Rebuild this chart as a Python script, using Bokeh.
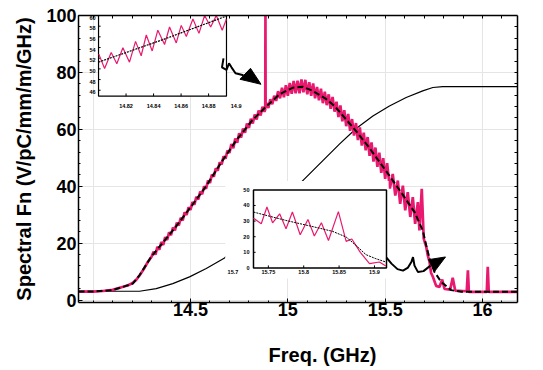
from bokeh.plotting import figure
from bokeh.models import (Range1d, LinearAxis, FixedTicker, SingleIntervalTicker,
                          NumeralTickFormatter, CustomJSTickFormatter)
from bokeh.core.properties import value
from bokeh.embed import file_html
from bokeh.resources import INLINE

FONT = "Liberation Sans"
RED = "#e8196f"

# ---------------- main chart data (GHz, V/pC/mm/m/GHz) ----------------
red_f_foot = [13.925, 14.00, 14.05, 14.10, 14.15, 14.18, 14.20, 14.22, 14.24, 14.26, 14.28, 14.30]
red_v_foot = [3.0, 3.0, 3.2, 3.6, 4.6, 5.2, 5.9, 7.0, 8.8, 10.9, 13.3, 15.2]

red_f_rise = [14.31, 14.32, 14.33, 14.34, 14.35, 14.36, 14.37, 14.38, 14.39, 14.40,
              14.41, 14.42, 14.43, 14.44, 14.45, 14.46, 14.47, 14.48, 14.49, 14.50,
              14.51, 14.52, 14.53, 14.54, 14.55, 14.56, 14.57, 14.58, 14.59, 14.60,
              14.61, 14.62, 14.63, 14.64, 14.65, 14.66, 14.67, 14.68, 14.69, 14.70,
              14.71, 14.72, 14.73, 14.74, 14.75, 14.76, 14.77, 14.78, 14.79, 14.80,
              14.81, 14.82, 14.83, 14.84, 14.85, 14.86, 14.87, 14.88]
red_v_rise = [17.0, 16.0, 18.7, 17.7, 20.4, 19.4, 22.1, 21.1, 23.8, 22.8,
              25.5, 24.5, 27.2, 26.2, 28.9, 28.0, 30.8, 29.9, 32.6, 31.7,
              34.4, 33.5, 36.3, 35.4, 38.1, 37.2, 40.0, 39.1, 42.0, 41.2,
              44.1, 43.4, 46.3, 45.5, 48.4, 47.7, 50.5, 49.7, 52.5, 51.7,
              54.8, 53.4, 56.8, 55.3, 58.6, 57.1, 60.3, 58.8, 62.0, 60.5,
              63.7, 62.1, 65.2, 63.5, 66.6, 64.9, 67.9, 66.2]

red_f_spike = [14.884, 14.885, 14.886]
red_v_spike = [67.0, 100.0, 67.6]

red_f_top = [14.89, 14.90, 14.91, 14.92, 14.93, 14.94, 14.95, 14.96, 14.97, 14.98,
             14.99, 15.00, 15.01, 15.02, 15.03, 15.04, 15.05, 15.06, 15.07, 15.08,
             15.09, 15.10, 15.11, 15.12, 15.13, 15.14, 15.15, 15.16, 15.17, 15.18,
             15.19, 15.20, 15.21, 15.22, 15.23, 15.24, 15.25, 15.26, 15.27, 15.28,
             15.29, 15.30, 15.31, 15.32, 15.33, 15.34, 15.35, 15.36, 15.37, 15.38,
             15.39, 15.40, 15.41, 15.42, 15.43, 15.44, 15.45, 15.46, 15.47, 15.48,
             15.49, 15.50]
red_v_top = [69.3, 67.5, 70.6, 68.8, 71.8, 70.0, 73.4, 70.9, 74.6, 71.3,
             75.5, 71.8, 76.3, 72.5, 77.0, 72.7, 77.1, 72.7, 77.5, 73.0,
             77.4, 72.3, 76.6, 71.8, 76.1, 70.9, 74.9, 70.2, 74.3, 69.2,
             73.2, 68.5, 72.3, 67.2, 71.4, 66.2, 69.7, 64.3, 68.4, 62.8,
             66.7, 61.1, 65.4, 59.5, 63.6, 57.8, 62.2, 56.2, 60.7, 54.3,
             58.8, 52.6, 57.3, 50.7, 55.4, 48.7, 53.6, 46.8, 51.8, 44.7,
             49.9, 42.6]

red_f_tail = [15.51, 15.524, 15.539, 15.552, 15.565, 15.577, 15.591, 15.603, 15.616, 15.629,
              15.642, 15.654, 15.668, 15.676, 15.688, 15.698, 15.711, 15.719, 15.728, 15.736,
              15.745, 15.762, 15.779, 15.793, 15.805, 15.834, 15.847, 15.860, 15.919, 15.925,
              15.930, 16.022, 16.027, 16.032, 16.18]
red_v_tail = [48.1, 39.2, 44.3, 36.7, 42.0, 33.8, 40.2, 31.5, 37.9, 29.2,
              36.2, 26.8, 34.4, 24.5, 39.1, 21.6, 18.7, 15.7, 13.4, 9.5,
              8.2, 5.0, 4.6, 7.2, 3.9, 3.7, 7.8, 3.3, 3.1, 10.5,
              2.9, 2.9, 11.7, 2.9, 2.9]

env_freq = [13.925, 14.00, 14.10, 14.152, 14.204, 14.238, 14.298, 14.375, 14.443, 14.51,
            14.58, 14.664, 14.736, 14.818, 14.890, 14.957, 15.024, 15.075, 15.126, 15.198,
            15.24, 15.342, 15.411, 15.497, 15.582, 15.651, 15.693, 15.711, 15.728, 15.753,
            15.788, 15.839, 15.891, 16.18]
env_val = [3.0, 3.0, 3.5, 4.6, 5.8, 8.7, 15.2, 21.6, 27.4, 33.5,
           40.0, 49.0, 56.2, 63.2, 68.1, 72.3, 74.6, 75.0, 73.6, 70.6,
           68.2, 60.1, 54.2, 46.1, 37.9, 30.9, 24.5, 19.2, 14.6, 9.9,
           6.4, 3.5, 2.9, 2.9]

cum_freq = [13.925, 14.238, 14.324, 14.409, 14.495, 14.581, 14.675, 15.086, 15.180, 15.265,
            15.351, 15.437, 15.522, 15.608, 15.693, 15.745, 15.796, 16.18]
cum_val = [3.1, 3.1, 4.05, 5.8, 8.15, 11.1, 14.8, 42.6, 49.0, 54.8,
           60.3, 64.7, 68.2, 71.2, 73.5, 74.7, 75.0, 75.0]

x_tick_values = [14.5, 15.0, 15.5, 16.0]
x_minor_ticks = [13.9, 14.0, 14.1, 14.2, 14.3, 14.4, 14.6, 14.7, 14.8, 14.9, 15.1, 15.2,
                 15.3, 15.4, 15.6, 15.7, 15.8, 15.9, 16.1]
x_all_ticks = sorted(x_tick_values + x_minor_ticks)
y_all_ticks = [4, 8, 12, 16, 20, 24, 28, 32, 36, 40, 44, 48, 52, 56, 60, 64, 68, 72, 76,
               80, 84, 88, 92, 96]
x_title = "Freq. (GHz)"
x_title_at = [15.178]
y_title = "Spectral Fn (V/pC/mm/m/GHz)"

# ---------------- inset 1 (upper left) ----------------
ins1_red_f = [14.8002, 14.8044, 14.8092, 14.8133, 14.8177, 14.8225, 14.8269, 14.8310, 14.8347,
              14.8390, 14.8431, 14.8480, 14.8516, 14.8565, 14.8601, 14.8638, 14.8686, 14.8730,
              14.8771, 14.8815, 14.8856, 14.8899, 14.8929]
ins1_red_v = [52.76, 50.07, 53.06, 50.97, 53.96, 51.26, 55.15, 52.46, 56.35,
              53.36, 57.25, 54.56, 57.85, 54.86, 58.15, 56.05, 59.34, 56.65,
              60.0, 57.85, 60.0, 57.25, 59.3]
ins1_fit_f = [14.800, 14.847, 14.893]
ins1_fit_v = [51.26, 55.5, 59.9]
ins1_xticks = [14.82, 14.84, 14.86, 14.88, 14.9]
ins1_xlabels = ["14.82", "14.84", "14.86", "14.88", "14.9"]
ins1_yticks = [46, 48, 50, 52, 54, 56, 58, 60]
ins1_ylabels = ["46", "48", "50", "52", "54", "56", "58", "60"]

# ---------------- inset 2 (lower middle) ----------------
ins2_red_f = [15.729, 15.740, 15.748, 15.756, 15.766, 15.775, 15.784, 15.795, 15.806, 15.815,
              15.825, 15.835, 15.849, 15.860, 15.868, 15.880, 15.893, 15.907, 15.916]
ins2_red_v = [31.9, 28.3, 39.0, 28.9, 34.7, 25.1, 35.8, 21.3, 31.0, 20.4,
              28.9, 17.6, 36.1, 17.0, 18.5, 10.0, 2.7, 3.8, 1.3]
ins2_fit_f = [15.729, 15.775, 15.822, 15.841, 15.860, 15.874, 15.888, 15.902, 15.916]
ins2_fit_v = [35.8, 30.4, 25.5, 23.4, 19.8, 14.4, 8.5, 5.9, 3.8]
ins2_xticks = [15.7, 15.75, 15.8, 15.85, 15.9]
ins2_xlabels = ["15.7", "15.75", "15.8", "15.85", "15.9"]
ins2_yticks = [0, 10, 20, 30, 40, 50]
ins2_ylabels = ["0", "10", "20", "30", "40", "50"]

# ---------------- arrows (annotation paths, main data units) ----------------
arrow1_x = [14.6695, 14.6618, 14.6849, 14.6978, 14.7106, 14.7312, 14.7723]
arrow1_y = [84.94, 81.79, 80.92, 83.19, 81.79, 79.69, 78.99]
head1_x = [14.7543, 14.8082, 14.8622]
head1_y = [77.59, 81.44, 75.84]
arrow2_x = [15.5068, 15.5325, 15.5633, 15.5916, 15.6173, 15.6353, 15.6430, 15.6507, 15.6687, 15.6969, 15.7328]
arrow2_y = [14.91, 12.81, 10.88, 10.36, 11.41, 13.51, 15.08, 12.11, 9.83, 10.18, 12.11]
head2_x = [15.7226, 15.8099, 15.7534]
head2_y = [14.21, 15.15, 10.01]

red_freq = red_f_foot + red_f_rise + red_f_spike + red_f_top + red_f_tail
red_val = red_v_foot + red_v_rise + red_v_spike + red_v_top + red_v_tail
assert len(red_freq) == len(red_val)

# ---------------- figure ----------------
p = figure(width=535, height=368,
           x_range=Range1d(13.9247, 16.1798), y_range=Range1d(-0.85, 100.0),
           output_backend="svg", toolbar_location=None,
           x_axis_location=None, y_axis_location=None,
           min_border_left=78, min_border_right=18, min_border_top=15, min_border_bottom=65)
p.outline_line_color = None
p.background_fill_color = "white"
p.border_fill_color = "white"


def frame_axis(ax):
    ax.axis_line_color = "black"
    ax.axis_line_width = 1.5
    ax.major_tick_in = 4
    ax.major_tick_out = 0
    ax.minor_tick_in = 2
    ax.minor_tick_out = 0
    ax.major_tick_line_color = "black"
    ax.minor_tick_line_color = "black"
    ax.major_label_text_font = FONT
    ax.major_label_text_font_style = "bold"
    ax.major_label_text_font_size = "18px"
    ax.major_label_text_color = "black"


def plain_axis(ax, tick_len):
    ax.axis_line_color = "black"
    ax.axis_line_width = 1.5
    ax.major_tick_in = 0
    ax.major_tick_out = 0
    ax.minor_tick_in = tick_len
    ax.minor_tick_out = 0
    ax.minor_tick_line_color = "black"
    ax.major_label_standoff = 0


bottom = LinearAxis(ticker=FixedTicker(ticks=x_tick_values, minor_ticks=x_minor_ticks),
                    formatter=NumeralTickFormatter(format="0.[0]"))
frame_axis(bottom)
bottom.major_label_standoff = 0

left = LinearAxis(ticker=SingleIntervalTicker(interval=20, num_minor_ticks=5),
                  axis_label=y_title)
frame_axis(left)
left.major_label_standoff = 2
left.axis_label_text_font = FONT
left.axis_label_text_font_style = "bold"
left.axis_label_text_font_size = "20px"
left.axis_label_text_color = "black"
left.axis_label_standoff = 8

top = LinearAxis(ticker=FixedTicker(ticks=[], minor_ticks=x_all_ticks))
plain_axis(top, 3)
right = LinearAxis(ticker=FixedTicker(ticks=[], minor_ticks=y_all_ticks))
plain_axis(right, 3)

# x-axis title, placed as the single label of a bare axis below the tick labels
title_axis = LinearAxis(ticker=FixedTicker(ticks=x_title_at),
                        formatter=CustomJSTickFormatter(code="return %r;" % x_title),
                        axis_line_color=None, major_tick_line_color=None,
                        minor_tick_line_color=None, major_tick_in=0, major_tick_out=0,
                        major_label_standoff=25)
title_axis.major_label_text_font = FONT
title_axis.major_label_text_font_style = "bold"
title_axis.major_label_text_font_size = "20px"
title_axis.major_label_text_color = "black"

p.add_layout(bottom, "below")
p.add_layout(title_axis, "below")
p.add_layout(top, "above")
p.add_layout(left, "left")
p.add_layout(right, "right")

# main curves
p.line(cum_freq, cum_val, color="black", line_width=1.2)
p.line(red_freq, red_val, color=RED, line_width=2.7)
p.line(env_freq, env_val, color="black", line_width=2, line_dash="6 3")

# inset 2
ins2 = p.subplot(x_source=Range1d(15.729, 15.917), y_source=Range1d(0.0, 50.0),
                 x_target=Range1d(14.8236, 15.5068), y_target=Range1d(11.30, 38.72))
ins2.quad(left=[15.689], right=[15.920], bottom=[-6.8], top=[55.7],
          fill_color="white", line_color=None)
ins2.quad(left=[15.729], right=[15.917], bottom=[0.0], top=[50.0],
          fill_color=None, line_color="black", line_width=1.5)
ins2.segment(x0=ins2_xticks[1:], y0=[0.0] * 4, x1=ins2_xticks[1:], y1=[1.6] * 4,
             line_color="black", line_width=1)
ins2.segment(x0=[15.729] * 4, y0=ins2_yticks[1:5], x1=[15.732] * 4, y1=ins2_yticks[1:5],
             line_color="black", line_width=1)
ins2.line(ins2_red_f, ins2_red_v, color=RED, line_width=1.2)
ins2.line(ins2_fit_f, ins2_fit_v, color="black", line_width=1, line_dash="2 1")
ins2.text(x=[15.7233] * len(ins2_yticks), y=ins2_yticks, text=ins2_ylabels,
          text_font=value(FONT), text_font_style="bold", text_font_size="5.5px",
          text_align="right", text_baseline="middle", text_color="black")
ins2.text(x=ins2_xticks, y=[-2.6] * len(ins2_xticks), text=ins2_xlabels,
          text_font=value(FONT), text_font_style="bold", text_font_size="5.5px",
          text_align="center", text_baseline="middle", text_color="black")

# inset 1
ins1 = p.subplot(x_source=Range1d(14.80, 14.893), y_source=Range1d(44.88, 60.0),
                 x_target=Range1d(14.0276, 14.6849), y_target=Range1d(71.64, 100.0))
ins1.quad(left=[14.80], right=[14.893], bottom=[44.88], top=[60.0],
          fill_color="white", line_color="black", line_width=1.2)
ins1.segment(x0=ins1_xticks[:4], y0=[44.88] * 4, x1=ins1_xticks[:4], y1=[45.4] * 4,
             line_color="black", line_width=1)
ins1.segment(x0=[14.80] * 7, y0=ins1_yticks[:7], x1=[14.8015] * 7, y1=ins1_yticks[:7],
             line_color="black", line_width=1)
ins1.line(ins1_red_f, ins1_red_v, color=RED, line_width=1.2)
ins1.line(ins1_fit_f, ins1_fit_v, color="black", line_width=1.2, line_dash="2 1")
ins1.text(x=[14.7978] * len(ins1_yticks), y=ins1_yticks, text=ins1_ylabels,
          text_font=value(FONT), text_font_style="bold", text_font_size="5.5px",
          text_align="right", text_baseline="top", text_color="black")
ins1.text(x=ins1_xticks, y=[43.0] * len(ins1_xticks), text=ins1_xlabels,
          text_font=value(FONT), text_font_style="bold", text_font_size="5.5px",
          text_align="center", text_baseline="middle", text_color="black")

# arrows
p.line(arrow1_x, arrow1_y, color="black", line_width=2)
p.patch(head1_x, head1_y, fill_color="black", line_color="black")
p.line(arrow2_x, arrow2_y, color="black", line_width=2)
p.patch(head2_x, head2_y, fill_color="black", line_color="black")

open("out.html", "w").write(file_html(p, INLINE))
